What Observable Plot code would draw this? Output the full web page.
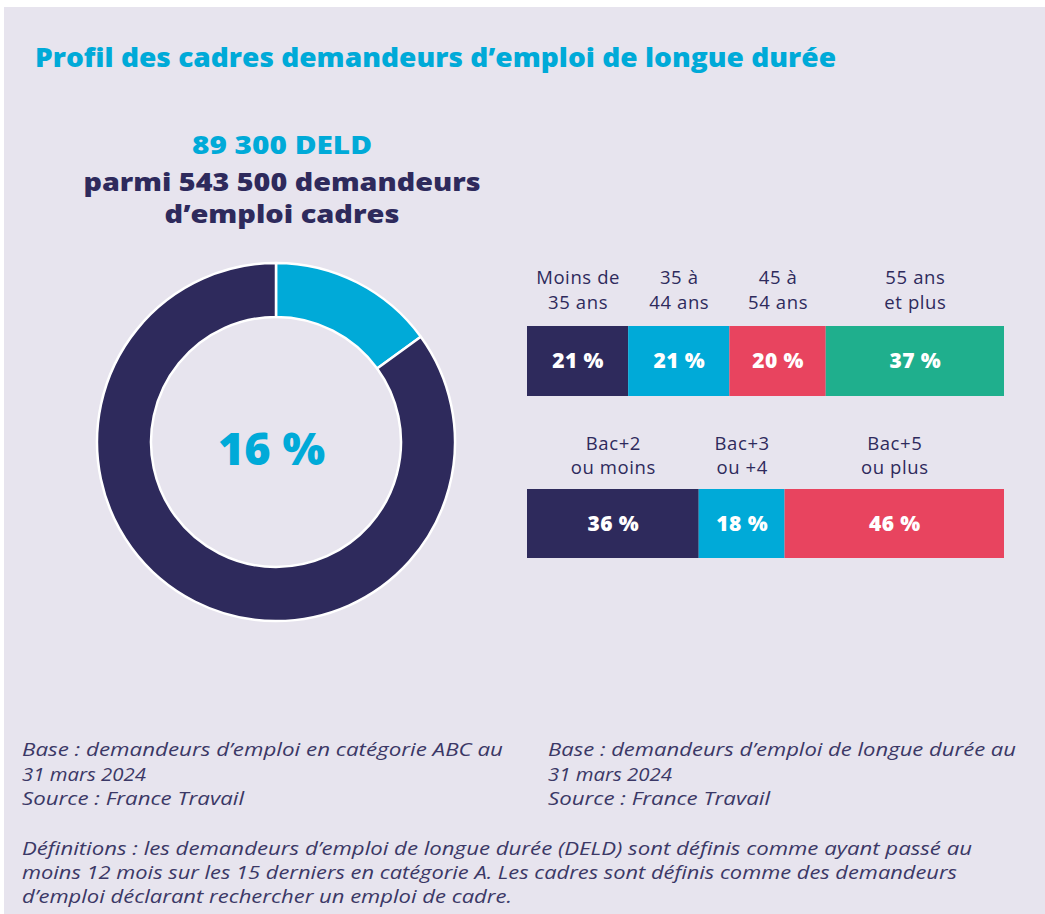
<!DOCTYPE html>
<html><head><meta charset="utf-8">
<script src="https://cdn.jsdelivr.net/npm/d3@7"></script>
<script src="https://cdn.jsdelivr.net/npm/@observablehq/plot@0.6"></script>
<style>
html,body{margin:0;padding:0;background:#ffffff;width:1045px;height:914px;overflow:hidden;}
#panel{position:absolute;left:4px;top:7px;width:1041px;height:907px;background:#e7e4ee;}
.abs{position:absolute;}
#overlay{position:absolute;left:0;top:0;}
</style></head><body>
<div id="panel"></div>
<div id="donut" class="abs" style="left:76px;top:242px;"></div>
<div id="age" class="abs" style="left:527px;top:262px;"></div>
<div id="edu" class="abs" style="left:527px;top:425px;"></div>
<svg id="overlay" width="1045" height="914"></svg>
<script>
// ---- data ----
const title = "Profil des cadres demandeurs d’emploi de longue durée";
const headline = ["89 300 DELD", "parmi 543 500 demandeurs", "d’emploi cadres"];
const donutLabels = ["DELD", "Autres demandeurs d’emploi cadres"];
const donutValues = [15, 85];
const donutCenterLabel = "16 %";
const ageCategories = ["Moins de\n35 ans", "35 à\n44 ans", "45 à\n54 ans", "55 ans\net plus"];
const ageValues = [21, 21, 20, 37];
const eduCategories = ["Bac+2\nou moins", "Bac+3\nou +4", "Bac+5\nou plus"];
const eduValues = [36, 18, 46];
const noteLeft = ["Base : demandeurs d’emploi en catégorie ABC au", "31 mars 2024", "Source : France Travail"];
const noteRight = ["Base : demandeurs d’emploi de longue durée au", "31 mars 2024", "Source : France Travail"];
const definitions = [
  "Définitions : les demandeurs d’emploi de longue durée (DELD) sont définis comme ayant passé au",
  "moins 12 mois sur les 15 derniers en catégorie A. Les cadres sont définis comme des demandeurs",
  "d’emploi déclarant rechercher un emploi de cadre."
];

// ---- style ----
const NAVY = "#2e2a5c", CYAN = "#00aad8", RED = "#e8445f", GREEN = "#1faf8d";
const HEAD = "'Open Sans', sans-serif";
const BODY = "'Open Sans', sans-serif";

// ---- donut ----
const donutData = donutLabels.map((l, i) => ({label: l, value: donutValues[i]}));
function donutMark(index, scales, values, dims) {
  const cx = scales.x ? scales.x(0) : dims.width / 2;
  const cy = scales.y ? scales.y(0) : dims.height / 2;
  const colorOf = (d, i) => scales.color ? scales.color(d.data.label) : [CYAN, NAVY][i];
  const arcs = d3.pie().value(d => d.value).sort(null)(donutData);
  const arc = d3.arc().innerRadius(125).outerRadius(179);
  const g = d3.create("svg:g").attr("transform", `translate(${cx},${cy})`);
  g.selectAll("path").data(arcs).join("path")
    .attr("d", arc).attr("fill", colorOf)
    .attr("stroke", "white").attr("stroke-width", 2.5).attr("stroke-linejoin", "round");
  return g.node();
}
const donut = Plot.plot({
  width: 400, height: 400, margin: 0,
  x: {domain: [-1, 1], axis: null},
  y: {domain: [-1, 1], axis: null},
  color: {domain: donutLabels, range: [CYAN, NAVY]},
  style: {background: "transparent", overflow: "visible"},
  marks: [
    Plot.dot(donutData, {x: () => 0, y: () => 0, fill: "label", r: 0}),
    donutMark,
    Plot.text([donutCenterLabel], {x: () => 0, y: () => 0, text: d => d, fontSize: 45, fontWeight: 800,
      fontFamily: HEAD, fill: CYAN, dx: -5, dy: 8})
  ]
});
document.getElementById("donut").append(donut);

// ---- stacked bars ----
function stackedBar(cats, vals, colors, height, marginTop, labelDy) {
  const data = cats.map((c, i) => ({cat: c, value: vals[i], label: vals[i] + " %", row: "r"}));
  const total = d3.sum(vals);
  return Plot.plot({
    width: 477, height, marginTop, marginBottom: 0, marginLeft: 0, marginRight: 0,
    x: {domain: [0, total], axis: null},
    y: {domain: ["r"], axis: null, padding: 0},
    color: {domain: cats, range: colors},
    style: {background: "transparent", overflow: "visible"},
    marks: [
      Plot.barX(data, Plot.stackX({x: "value", y: "row", fill: "cat", order: null})),
      Plot.text(data, Plot.stackX({x: "value", y: "row", text: "label", fill: "white", fontSize: 21,
        fontWeight: 800, fontFamily: HEAD, order: null, dy: 0})),
      Plot.text(data, Plot.stackX({x: "value", y: "row", text: "cat", lineAnchor: "bottom", dy: labelDy,
        fontSize: 18.5, fontFamily: BODY, fill: NAVY, lineHeight: 1.3, order: null}))
    ]
  });
}
const ageSvg = stackedBar(ageCategories, ageValues, [NAVY, CYAN, RED, GREEN], 134, 64, -53);
const eduSvg = stackedBar(eduCategories, eduValues, [NAVY, CYAN, RED], 133, 64, -50);
document.getElementById("age").append(ageSvg);
document.getElementById("edu").append(eduSvg);
for (const s of [ageSvg, eduSvg]) {
  const groups = s.querySelectorAll('g[aria-label="text"]');
  if (groups.length) groups[groups.length - 1].setAttribute("letter-spacing", "0.6");
  if (groups.length > 1) groups[0].setAttribute("letter-spacing", "0.4");
}

// ---- texts ----
const ov = d3.select("#overlay");
function addText(str, x, y, o, w) {
  const t = ov.append("text").attr("x", x).attr("y", y).text(str)
    .attr("font-family", o.family).attr("font-size", o.size).attr("font-weight", o.weight || 400)
    .attr("fill", o.fill).attr("text-anchor", o.anchor || "start");
  if (o.italic) t.attr("font-style", "italic");
  if (w) t.attr("textLength", w).attr("lengthAdjust", "spacingAndGlyphs");
  return t;
}
addText(title, 35, 67, {family: HEAD, size: 27, weight: 800, fill: CYAN}, 801);
addText(headline[0], 282, 154, {family: HEAD, size: 24, weight: 800, fill: CYAN, anchor: "middle"}, 180);
addText(headline[1], 282, 191, {family: HEAD, size: 25, weight: 800, fill: NAVY, anchor: "middle"}, 397);
addText(headline[2], 282, 223, {family: HEAD, size: 25, weight: 800, fill: NAVY, anchor: "middle"}, 235);
const NOTE = {family: "'Open Sans', sans-serif", size: 17.5, fill: "#3b3866", italic: true};
const leftW = [481, 124, 222], rightW = [468, 124, 222], defW = [950, 935, 490];
noteLeft.forEach((s, i) => addText(s, 22, 756 + i * 24.5, NOTE, leftW[i]));
noteRight.forEach((s, i) => addText(s, 548, 756 + i * 24.5, NOTE, rightW[i]));
definitions.forEach((s, i) => addText(s, 22, 855 + i * 24, NOTE, defW[i]));
</script>
</body></html>
